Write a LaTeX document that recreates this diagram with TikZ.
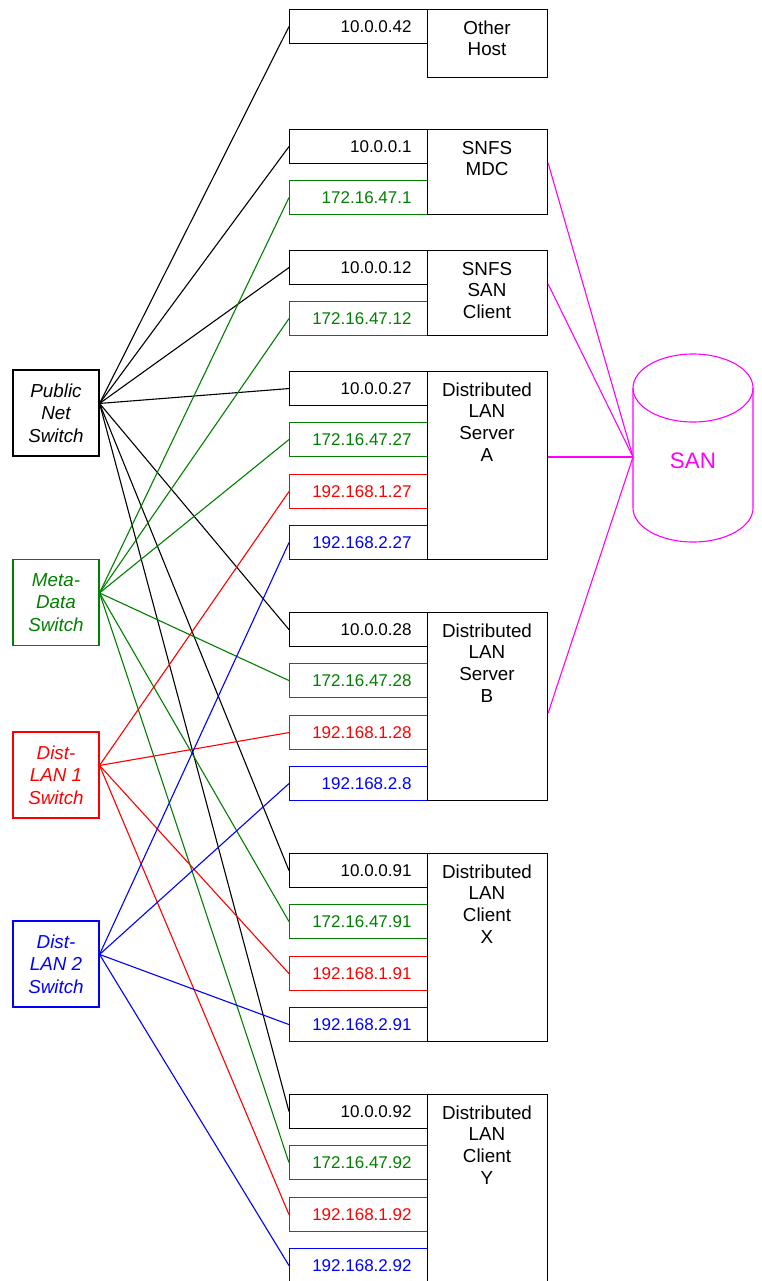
\documentclass[tikz,border=0pt]{standalone}
\usepackage{fontspec}
\setmainfont{Liberation Sans}
\definecolor{lgreen}{RGB}{0,128,0}
\definecolor{lred}{RGB}{255,0,0}
\definecolor{lblue}{RGB}{0,0,255}
\definecolor{lmag}{RGB}{255,0,255}
\tikzset{
  ip/.style={draw, rectangle, minimum width=138pt, minimum height=34pt, inner xsep=16pt, inner ysep=0pt,
    text width=106pt, align=right, anchor=north west, line width=1.1pt, font=\fontsize{17}{20}\selectfont},
  host/.style={draw, rectangle, minimum width=120pt, anchor=north west, inner sep=0pt, line width=1.1pt},
  hosttext/.style={anchor=north, inner sep=0pt, align=center, font=\fontsize{18.8}{21.7}\selectfont},
  sw/.style={draw, rectangle, minimum width=86pt, minimum height=86pt, inner sep=0pt, align=center,
    line width=1.1pt, font=\fontsize{18.8}{22.5}\selectfont\itshape},
  wire/.style={line width=1.1pt},
}
\begin{document}
\begin{tikzpicture}[x=1pt, y=-1pt]
\useasboundingbox (0,0) rectangle (762,1281);
\clip (0,0) rectangle (762,1281);
\fill[white] (0,0) rectangle (762,1281);

% switches
\node[sw] (pub) at (56,413) {Public\\Net\\Switch};
\node[sw, draw=lgreen, text=lgreen] (meta) at (56,602.5) {Meta-\\Data\\Switch};
\node[sw, draw=lred, text=lred] (dl1) at (56,775) {Dist-\\LAN 1\\Switch};
\node[sw, draw=lblue, text=lblue] (dl2) at (56,964) {Dist-\\LAN 2\\Switch};
\coordinate (pubP) at ([yshift=-34pt]pub.north east);
\coordinate (metaP) at ([yshift=-34pt]meta.north east);
\coordinate (dl1P) at ([yshift=-34pt]dl1.north east);
\coordinate (dl2P) at ([yshift=-34pt]dl2.north east);

% IP boxes
\node[ip] (o42) at (289,9) {10.0.0.42};
\node[ip] (m1) at (289,129) {10.0.0.1};
\node[ip, draw=lgreen, text=lgreen] (m1g) at (289,180) {172.16.47.1};
\node[ip] (c12) at (289,250) {10.0.0.12};
\node[ip, draw=lgreen, text=lgreen] (c12g) at (289,301) {172.16.47.12};
\node[ip] (a27) at (289,371) {10.0.0.27};
\node[ip, draw=lgreen, text=lgreen] (a27g) at (289,422) {172.16.47.27};
\node[ip, draw=lred, text=lred] (a27r) at (289,474) {192.168.1.27};
\node[ip, draw=lblue, text=lblue] (a27b) at (289,525) {192.168.2.27};
\node[ip] (b28) at (289,612) {10.0.0.28};
\node[ip, draw=lgreen, text=lgreen] (b28g) at (289,663) {172.16.47.28};
\node[ip, draw=lred, text=lred] (b28r) at (289,715) {192.168.1.28};
\node[ip, draw=lblue, text=lblue] (b28b) at (289,766) {192.168.2.8};
\node[ip] (x91) at (289,853) {10.0.0.91};
\node[ip, draw=lgreen, text=lgreen] (x91g) at (289,904) {172.16.47.91};
\node[ip, draw=lred, text=lred] (x91r) at (289,956) {192.168.1.91};
\node[ip, draw=lblue, text=lblue] (x91b) at (289,1007) {192.168.2.91};
\node[ip] (y92) at (289,1094) {10.0.0.92};
\node[ip, draw=lgreen, text=lgreen] (y92g) at (289,1145) {172.16.47.92};
\node[ip, draw=lred, text=lred] (y92r) at (289,1197) {192.168.1.92};
\node[ip, draw=lblue, text=lblue] (y92b) at (289,1248) {192.168.2.92};

% host boxes
\node[host, minimum height=68pt] (oh) at (427,9) {};
\node[host, minimum height=85pt] (mdc) at (427,129) {};
\node[host, minimum height=85pt] (scl) at (427,250) {};
\node[host, minimum height=188pt] (dsa) at (427,371) {};
\node[host, minimum height=188pt] (dsb) at (427,612) {};
\node[host, minimum height=188pt] (dcx) at (427,853) {};
\node[host, minimum height=188pt] (dcy) at (427,1094) {};

\node[hosttext] (ohT) at (487,18.8) {\strut Other\\Host};
\node[hosttext] (mdcT) at (487,138.8) {\strut SNFS\\MDC};
\node[hosttext] (sclT) at (487,259.8) {\strut SNFS\\SAN\\Client};
\node[hosttext] (dsaT) at (487,380.8) {\strut Distributed\\LAN\\Server\\A};
\node[hosttext] (dsbT) at (487,621.8) {\strut Distributed\\LAN\\Server\\B};
\node[hosttext] (dcxT) at (487,862.8) {\strut Distributed\\LAN\\Client\\X};
\node[hosttext] (dcyT) at (487,1103.8) {\strut Distributed\\LAN\\Client\\Y};

% SAN cylinder
\draw[lmag, line width=1.1pt] (693,388) ellipse [x radius=60pt, y radius=34pt];
\draw[lmag, line width=1.1pt] (633,388) -- (633,508) arc[start angle=180, end angle=360, x radius=60pt, y radius=34pt] -- (753,388);
\node[lmag, inner sep=0pt, font=\fontsize{22.4}{26}\selectfont] (san) at (693,461) {SAN};
\coordinate (sanP) at (633,457);

% wires
\draw[wire] (pubP) -- (o42.west);
\draw[wire] (pubP) -- (m1.west);
\draw[wire] (pubP) -- (c12.west);
\draw[wire] (pubP) -- (a27.west);
\draw[wire] (pubP) -- (b28.west);
\draw[wire] (pubP) -- (x91.west);
\draw[wire] (pubP) -- (y92.west);
\draw[wire, lgreen] (metaP) -- (m1g.west);
\draw[wire, lgreen] (metaP) -- (c12g.west);
\draw[wire, lgreen] (metaP) -- (a27g.west);
\draw[wire, lgreen] (metaP) -- (b28g.west);
\draw[wire, lgreen] (metaP) -- (x91g.west);
\draw[wire, lgreen] (metaP) -- (y92g.west);
\draw[wire, lred] (dl1P) -- (a27r.west);
\draw[wire, lred] (dl1P) -- (b28r.west);
\draw[wire, lred] (dl1P) -- (x91r.west);
\draw[wire, lred] (dl1P) -- (y92r.west);
\draw[wire, lblue] (dl2P) -- (a27b.west);
\draw[wire, lblue] (dl2P) -- (b28b.west);
\draw[wire, lblue] (dl2P) -- (x91b.west);
\draw[wire, lblue] (dl2P) -- (y92b.west);

\draw[wire, lmag] ([yshift=-34pt]mdc.north east) -- (sanP);
\draw[wire, lmag] ([yshift=-34pt]scl.north east) -- (sanP);
\draw[wire, lmag] ([yshift=-86pt]dsa.north east) -- (sanP);
\draw[wire, lmag] ([yshift=-101pt]dsb.north east) -- (sanP);
\end{tikzpicture}
\end{document}
